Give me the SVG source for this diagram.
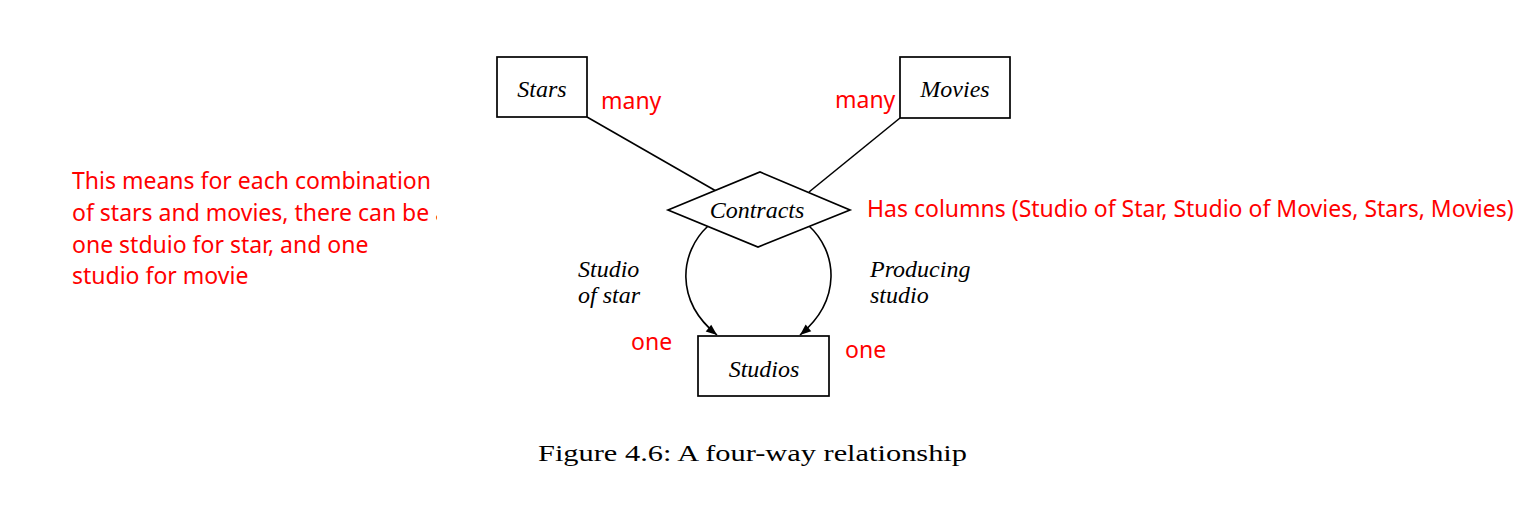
<svg xmlns="http://www.w3.org/2000/svg" width="1518" height="532" viewBox="0 0 1518 532">
<style>
.box{fill:#fff;stroke:#000;stroke-width:1.7}
.line{fill:none;stroke:#000;stroke-width:1.6}
.lbl{font-family:"Liberation Serif",serif;font-style:italic;font-size:24px;fill:#000}
.red{font-family:"Noto Sans","Noto Sans CJK KR",sans-serif;font-size:23px;fill:#f00}
.cap{font-family:"Liberation Serif",serif;font-size:24px;fill:#000}
</style>
<defs>
<marker id="arr" viewBox="0 0 10 10" refX="10" refY="5" markerWidth="15" markerHeight="11" markerUnits="userSpaceOnUse" orient="auto">
<path d="M0,1 L10,5 L0,9 Z" fill="#000"/>
</marker>
<clipPath id="clipNote"><rect x="0" y="150" width="437" height="150"/></clipPath>
</defs>
<rect width="1518" height="532" fill="#fff"/>
<g id="connectors">
<line class="line" x1="587" y1="117" x2="716" y2="191"/>
<line class="line" x1="900" y1="118" x2="809" y2="192"/>
<path class="line" d="M708,226 C680,252 674,300 717,335" marker-end="url(#arr)"/>
<path class="line" d="M808,225 C838,252 842,300 800,335" marker-end="url(#arr)"/>
</g>
<g id="stars">
<rect class="box" x="497" y="57" width="90" height="60"/>
<text class="lbl" x="542" y="97" text-anchor="middle">Stars</text>
</g>
<g id="movies">
<rect class="box" x="900" y="57" width="110" height="61"/>
<text class="lbl" x="955" y="97" text-anchor="middle">Movies</text>
</g>
<g id="contracts">
<polygon class="box" points="668,210 760,172 850,210 758,247"/>
<text class="lbl" x="757" y="218" text-anchor="middle">Contracts</text>
</g>
<g id="studios">
<rect class="box" x="698" y="336" width="131" height="60"/>
<text class="lbl" x="764" y="377" text-anchor="middle">Studios</text>
</g>
<g id="role-labels">
<text class="lbl" x="578" y="277">Studio</text>
<text class="lbl" x="578" y="303">of star</text>
<text class="lbl" x="870" y="277">Producing</text>
<text class="lbl" x="870" y="303">studio</text>
</g>
<g id="annotations">
<text class="red" x="601" y="109">many</text>
<text class="red" x="835" y="108">many</text>
<text class="red" x="631" y="350">one</text>
<text class="red" x="845" y="358">one</text>
<text class="red" x="867" y="217">Has columns (Studio of Star, Studio of Movies, Stars, Movies)</text>
<g clip-path="url(#clipNote)">
<text class="red" x="72" y="189">This means for each combination</text>
<text class="red" x="72" y="221">of stars and movies, there can be a</text>
<text class="red" x="72" y="253">one stduio for star, and one</text>
<text class="red" x="72" y="284">studio for movie</text>
</g>
</g>
<text class="cap" x="538" y="461" textLength="429" lengthAdjust="spacingAndGlyphs">Figure 4.6: A four-way relationship</text>
</svg>
